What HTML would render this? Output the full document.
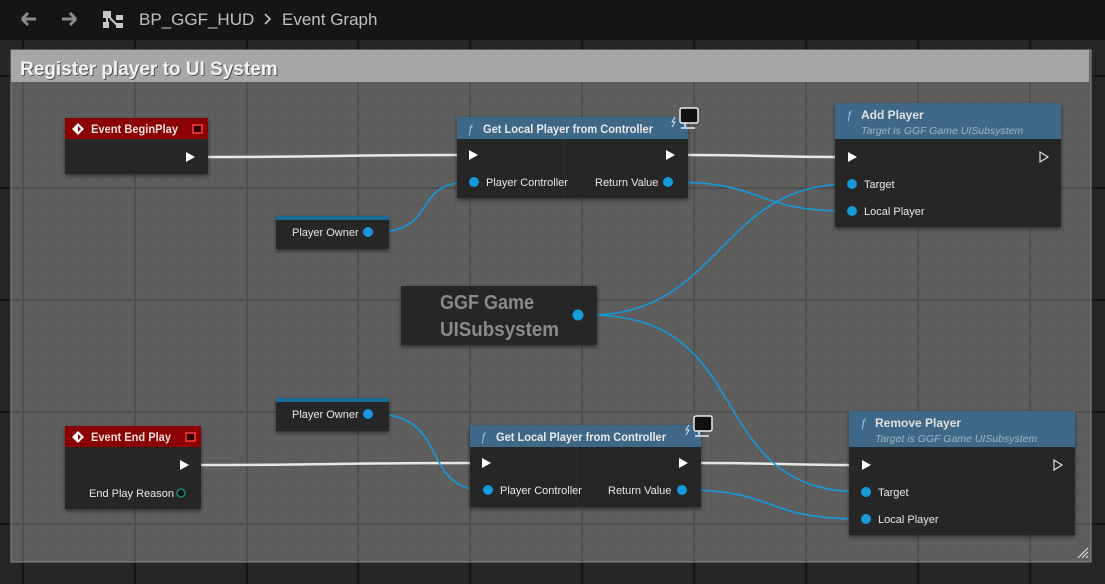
<!DOCTYPE html>
<html><head><meta charset="utf-8"><style>
html,body{margin:0;padding:0;background:#262626;overflow:hidden}
svg{display:block}
text{font-family:"Liberation Sans",sans-serif}
</style></head><body>
<svg width="1105" height="584" viewBox="0 0 1105 584" xmlns="http://www.w3.org/2000/svg">
<defs>
<pattern id="gOut" x="7" y="12" width="16" height="16" patternUnits="userSpaceOnUse"><path d="M0 0H16M0 0V16" stroke="#1f1f1f" stroke-width="1" fill="none"/></pattern>
<pattern id="gIn" x="7" y="12" width="16" height="16" patternUnits="userSpaceOnUse"><path d="M0 0H16M0 0V16" stroke="#565656" stroke-width="1" fill="none"/></pattern>
<filter id="sh" x="-10%" y="-10%" width="130%" height="140%"><feDropShadow dx="0" dy="2" stdDeviation="2" flood-color="#000" flood-opacity="0.5"/></filter>
</defs>
<rect width="1105" height="584" fill="#262626"/>
<rect width="1105" height="584" fill="url(#gOut)"/>
<g stroke="#151515" stroke-width="2">
<path d="M23 0V584M247 0V584M470 0V584M694 0V584M918 0V584M135 0V584M358 0V584M582 0V584M806 0V584M1030 0V584"/>
<path d="M0 76H1105M0 188H1105M0 300H1105M0 412H1105M0 524H1105"/>
</g>
<rect x="11" y="50" width="1080" height="512" fill="#5e5e5e"/>
<rect x="11" y="50" width="1080" height="512" fill="url(#gIn)"/>
<g stroke="#4c4c4c" stroke-width="1.5">
<path d="M23 82V562M247 82V562M470 82V562M694 82V562M918 82V562M135 82V562M358 82V562M582 82V562M806 82V562M1030 82V562"/>
<path d="M11 188H1091M11 300H1091M11 412H1091M11 524H1091"/>
</g>
<rect x="11" y="50" width="1080" height="512" fill="none" stroke="#8a8a8a" stroke-width="1"/>
<rect x="11" y="50" width="1078" height="32" fill="#a7a7a7"/>
<text x="21" y="76" font-size="19" font-weight="bold" fill="#1a1a1a" opacity="0.6">Register player to UI System</text>
<text x="20" y="75" font-size="19" font-weight="bold" fill="#f2f2f2">Register player to UI System</text>
<path d="M1078 558L1088 548M1082 558L1088 552M1086 558L1088 556" stroke="#ddd" stroke-width="1.2"/>
<rect x="0" y="0" width="1105" height="40" fill="#141414" opacity="0.93"/>
<path d="M22 19H36M22 19L28 13M22 19L28 25" stroke="#8a8a8a" stroke-width="3" fill="none"/>
<path d="M76 19H62M76 19L70 13M76 19L70 25" stroke="#8a8a8a" stroke-width="3" fill="none"/>
<g fill="#c8c8c8"><rect x="103" y="11" width="8" height="7"/><rect x="116" y="15" width="7" height="5"/><rect x="103" y="22" width="6" height="6"/><rect x="116" y="23" width="7" height="5"/><path d="M107 18V25M110 18L117 25" stroke="#c8c8c8" stroke-width="2"/></g>
<text x="139" y="25" font-size="17" fill="#c0c0c0">BP_GGF_HUD</text>
<path d="M265 14L270 19L265 24" stroke="#c0c0c0" stroke-width="1.6" fill="none"/>
<text x="282" y="25" font-size="17" fill="#c0c0c0">Event Graph</text>

<g fill="none" stroke="#e8e8e8" stroke-width="2.5">
<path d="M208 157C330 157 340 155 457 155"/>
<path d="M688 155C760 155 770 157 835 157"/>
<path d="M201 465C330 465 340 463 470 463"/>
<path d="M701 463C780 463 790 465 849 465"/>
</g>
<g fill="none" stroke="#169ad8" stroke-width="1.6">
<path d="M375 232C440 232 410 182 470 182"/>
<path d="M670 182C770 182 750 211 848 211"/>
<path d="M590 315C720 315 720 184 848 184"/>
<path d="M590 315C760 315 700 492 862 492"/>
<path d="M375 414C450 414 420 490 484 490"/>
<path d="M684 490C780 490 760 519 862 519"/>
</g>

<g filter="url(#sh)"><rect x="65" y="118" width="143" height="56" fill="#262626"/></g>
<rect x="65" y="118" width="143" height="21" fill="#8b0000"/>
<path d="M78 123L84 129L78 135L72 129Z" fill="#fff"/><path d="M78 126L81 129L78 132" fill="#8b0000"/>
<text x="91" y="133" font-size="12" fill="#f0e0e0" font-weight="bold" textLength="87" lengthAdjust="spacingAndGlyphs">Event BeginPlay</text>
<rect x="193" y="125" width="9" height="8" fill="#300" stroke="#ff4040" stroke-width="1.5"/>
<path d="M186 152L195 157L186 162Z" fill="#fff"/>

<g filter="url(#sh)"><rect x="457" y="117" width="231" height="81" fill="#262626"/></g>
<rect x="457" y="117" width="231" height="22" fill="#3e6888"/>
<line x1="564" y1="139" x2="564" y2="198" stroke="#2e2e2e"/>
<text x="467" y="133" font-size="12" font-style="italic" fill="#8fc4ea">ƒ</text>
<text x="483" y="133" font-size="12" fill="#e8e8e8" font-weight="bold" textLength="170" lengthAdjust="spacingAndGlyphs">Get Local Player from Controller</text>
<path d="M469 150L478 155L469 160Z" fill="#fff"/>
<path d="M666 150L675 155L666 160Z" fill="#fff"/>
<circle cx="474" cy="182" r="5" fill="#169ad8"/>
<text x="486" y="186" font-size="11" fill="#e8e8e8">Player Controller</text>
<text x="595" y="186" font-size="11" fill="#e8e8e8">Return Value</text>
<circle cx="668" cy="182" r="5" fill="#169ad8"/>
<g><path d="M675 117L672 122H675L672 127" stroke="#ddd" fill="none"/><rect x="680" y="108" width="18" height="15" rx="2" fill="#111" stroke="#eee" stroke-width="1.5"/><path d="M685 123V127M681 128H695" stroke="#eee" stroke-width="1.5"/></g>

<g filter="url(#sh)"><rect x="835" y="103" width="226" height="124" fill="#262626"/></g>
<rect x="835" y="103" width="226" height="36" fill="#3e6888"/>
<text x="846" y="119" font-size="12" font-style="italic" fill="#8fc4ea">ƒ</text>
<text x="861" y="119" font-size="12" font-weight="bold" fill="#e0e0e0">Add Player</text>
<text x="861" y="134" font-size="10.5" font-style="italic" fill="#9db4c4">Target is GGF Game UISubsystem</text>
<path d="M848 152L857 157L848 162Z" fill="#fff"/>
<path d="M1040 152L1048 157L1040 162Z" fill="none" stroke="#ddd" stroke-width="1.2"/>
<circle cx="852" cy="184" r="5" fill="#169ad8"/>
<text x="864" y="188" font-size="11" fill="#e8e8e8">Target</text>
<circle cx="852" cy="211" r="5" fill="#169ad8"/>
<text x="864" y="215" font-size="11" fill="#e8e8e8">Local Player</text>

<g filter="url(#sh)"><rect x="276" y="216" width="113" height="33" fill="#262626"/></g>
<rect x="276" y="216" width="113" height="4" fill="#1a6a98"/>
<text x="292" y="236" font-size="11" fill="#e8e8e8">Player Owner</text>
<circle cx="368" cy="232" r="5" fill="#169ad8"/>

<g filter="url(#sh)"><rect x="401" y="286" width="196" height="59" fill="#262626"/></g>
<text x="440" y="309" font-size="20" font-weight="bold" fill="#8a8a8a" textLength="94" lengthAdjust="spacingAndGlyphs">GGF Game</text>
<text x="440" y="336" font-size="20" font-weight="bold" fill="#8a8a8a" textLength="119" lengthAdjust="spacingAndGlyphs">UISubsystem</text>
<circle cx="578" cy="315" r="5.5" fill="#169ad8"/>

<g filter="url(#sh)"><rect x="276" y="398" width="113" height="33" fill="#262626"/></g>
<rect x="276" y="398" width="113" height="4" fill="#1a6a98"/>
<text x="292" y="418" font-size="11" fill="#e8e8e8">Player Owner</text>
<circle cx="368" cy="414" r="5" fill="#169ad8"/>

<g filter="url(#sh)"><rect x="65" y="426" width="136" height="83" fill="#262626"/></g>
<rect x="65" y="426" width="136" height="21" fill="#8b0000"/>
<path d="M78 431L84 437L78 443L72 437Z" fill="#fff"/><path d="M78 434L81 437L78 440" fill="#8b0000"/>
<text x="91" y="441" font-size="12" fill="#f0e0e0" font-weight="bold" textLength="80" lengthAdjust="spacingAndGlyphs">Event End Play</text>
<rect x="186" y="433" width="9" height="8" fill="#300" stroke="#ff4040" stroke-width="1.5"/>
<path d="M180 460L189 465L180 470Z" fill="#fff"/>
<text x="89" y="497" font-size="11" fill="#e8e8e8">End Play Reason</text>
<circle cx="181" cy="493" r="4" fill="#111" stroke="#1a8a7a" stroke-width="1.5"/>

<g filter="url(#sh)"><rect x="470" y="425" width="231" height="82" fill="#262626"/></g>
<rect x="470" y="425" width="231" height="22" fill="#3e6888"/>
<line x1="577" y1="447" x2="577" y2="507" stroke="#2e2e2e"/>
<text x="480" y="441" font-size="12" font-style="italic" fill="#8fc4ea">ƒ</text>
<text x="496" y="441" font-size="12" fill="#e8e8e8" font-weight="bold" textLength="170" lengthAdjust="spacingAndGlyphs">Get Local Player from Controller</text>
<path d="M482 458L491 463L482 468Z" fill="#fff"/>
<path d="M679 458L688 463L679 468Z" fill="#fff"/>
<circle cx="488" cy="490" r="5" fill="#169ad8"/>
<text x="500" y="494" font-size="11" fill="#e8e8e8">Player Controller</text>
<text x="608" y="494" font-size="11" fill="#e8e8e8">Return Value</text>
<circle cx="682" cy="490" r="5" fill="#169ad8"/>
<g><path d="M689 425L686 430H689L686 435" stroke="#ddd" fill="none"/><rect x="694" y="416" width="18" height="15" rx="2" fill="#111" stroke="#eee" stroke-width="1.5"/><path d="M699 431V435M695 436H709" stroke="#eee" stroke-width="1.5"/></g>

<g filter="url(#sh)"><rect x="849" y="411" width="226" height="124" fill="#262626"/></g>
<rect x="849" y="411" width="226" height="36" fill="#3e6888"/>
<text x="860" y="427" font-size="12" font-style="italic" fill="#8fc4ea">ƒ</text>
<text x="875" y="427" font-size="12" font-weight="bold" fill="#e0e0e0">Remove Player</text>
<text x="875" y="442" font-size="10.5" font-style="italic" fill="#9db4c4">Target is GGF Game UISubsystem</text>
<path d="M862 460L871 465L862 470Z" fill="#fff"/>
<path d="M1054 460L1062 465L1054 470Z" fill="none" stroke="#ddd" stroke-width="1.2"/>
<circle cx="866" cy="492" r="5" fill="#169ad8"/>
<text x="878" y="496" font-size="11" fill="#e8e8e8">Target</text>
<circle cx="866" cy="519" r="5" fill="#169ad8"/>
<text x="878" y="523" font-size="11" fill="#e8e8e8">Local Player</text>
</svg>
</body></html>
